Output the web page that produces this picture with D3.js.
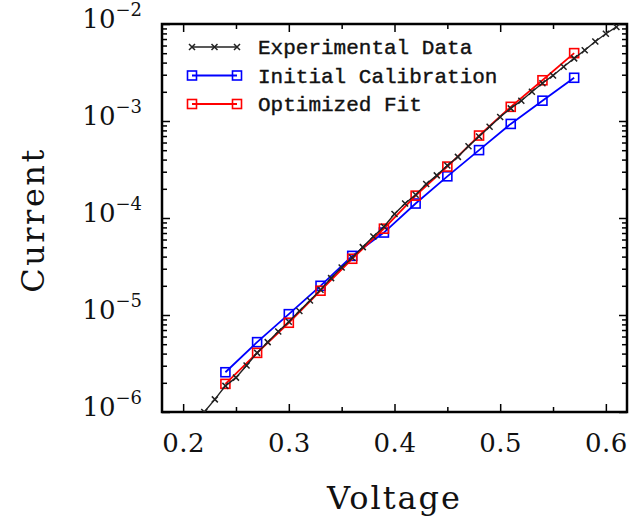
<!DOCTYPE html>
<html>
<head>
<meta charset="utf-8">
<script src="https://cdn.jsdelivr.net/npm/d3@7"></script>
<style>
  body { margin: 0; background: #fff; }
  svg { display: block; }
</style>
</head>
<body>
<div id="chart"></div>
<script>
// experimental sweep, one point every 10 mV
const expVoltage = [0.22, 0.23, 0.24, 0.25, 0.26, 0.27, 0.28, 0.29, 0.30, 0.31,
    0.32, 0.33, 0.34, 0.35, 0.36, 0.37, 0.38, 0.39, 0.40, 0.41,
    0.42, 0.43, 0.44, 0.45, 0.46, 0.47, 0.48, 0.49, 0.50, 0.51,
    0.52, 0.53, 0.54, 0.55, 0.56, 0.57, 0.58, 0.59, 0.60, 0.61];
const expCurrent = [1.00e-6, 1.35e-6, 1.86e-6, 2.26e-6, 3.02e-6, 4.07e-6, 5.25e-6, 6.76e-6, 8.51e-6, 1.10e-5,
    1.41e-5, 1.82e-5, 2.40e-5, 3.09e-5, 3.89e-5, 5.01e-5, 6.46e-5, 8.13e-5, 1.10e-4, 1.41e-4,
    1.74e-4, 2.24e-4, 2.75e-4, 3.47e-4, 4.27e-4, 5.50e-4, 6.92e-4, 8.71e-4, 1.10e-3, 1.35e-3,
    1.62e-3, 2.00e-3, 2.45e-3, 2.95e-3, 3.63e-3, 4.42e-3, 5.37e-3, 6.61e-3, 7.94e-3, 9.33e-3];

// model points every 30 mV
const modelVoltage = [0.24, 0.27, 0.30, 0.33, 0.36, 0.39, 0.42, 0.45, 0.48, 0.51, 0.54, 0.57];
const initialCurrent = [2.57e-6, 5.25e-6, 1.02e-5, 2.00e-5, 4.07e-5, 7.08e-5,
    1.41e-4, 2.69e-4, 5.01e-4, 9.33e-4, 1.62e-3, 2.79e-3];
const optimizedCurrent = [1.95e-6, 4.07e-6, 8.32e-6, 1.78e-5, 3.80e-5, 7.76e-5,
    1.70e-4, 3.39e-4, 7.08e-4, 1.40e-3, 2.63e-3, 5.01e-3];

const xTicks = [0.2, 0.3, 0.4, 0.5, 0.6];
const xMinorTicks = [0.25, 0.35, 0.45, 0.55];
const yDecades = [1e-6, 1e-5, 1e-4, 1e-3, 1e-2];
const yExponents = ["\u22126", "\u22125", "\u22124", "\u22123", "\u22122"];
const legendLabels = ["Experimental Data", "Initial Calibration", "Optimized Fit"];
const seriesColors = ["#000000", "#0000ff", "#ff0000"];

// set the dimensions and margins of the graph
var margin = { top: 24, right: 7, bottom: 105, left: 162 },
    width = 634 - margin.left - margin.right,
    height = 517 - margin.top - margin.bottom;

var svg = d3.select("#chart")
    .append("svg")
    .attr("width", 634)
    .attr("height", 517)
    .append("g")
    .attr("transform", "translate(" + margin.left + "," + margin.top + ")");

var x = d3.scaleLinear()
    .domain([0.18, 0.62])
    .range([0, width]);

var y = d3.scaleLog()
    .domain([1e-6, 1e-2])
    .range([height, 0]);

const tickFont = "'DejaVu Serif', serif";
const majorLen = 8, minorLen = 5;

// minor log ticks: 2..9 within each decade
const yMinorTicks = y.ticks().filter(function (t) {
    return yDecades.indexOf(t) < 0;
});

function styleAxis(g) {
    g.select(".domain").remove();
    g.selectAll(".tick line").attr("stroke", "#000").attr("stroke-width", 1.5);
}

// bottom axis with labels
svg.append("g")
    .attr("transform", "translate(0," + height + ")")
    .call(d3.axisBottom(x).tickValues(xTicks).tickSize(-majorLen).tickPadding(22)
        .tickFormat(d3.format(".1f")))
    .call(styleAxis)
    .call(function (g) {
        g.selectAll("text").attr("font-family", tickFont).attr("font-size", 26)
            .attr("letter-spacing", 0.5).attr("fill", "#111");
    });
svg.append("g")
    .attr("transform", "translate(0," + height + ")")
    .call(d3.axisBottom(x).tickValues(xMinorTicks).tickSize(-minorLen).tickFormat(""))
    .call(styleAxis);

// top axis, ticks only
svg.append("g")
    .call(d3.axisTop(x).tickValues(xTicks).tickSize(-majorLen).tickFormat(""))
    .call(styleAxis);
svg.append("g")
    .call(d3.axisTop(x).tickValues(xMinorTicks).tickSize(-minorLen).tickFormat(""))
    .call(styleAxis);

// left axis: 10^n labels
var yAxisLeft = svg.append("g")
    .call(d3.axisLeft(y).tickValues(yDecades).tickSize(-majorLen).tickFormat(""))
    .call(styleAxis);
yAxisLeft.selectAll(".tick").each(function (d, i) {
    var t = d3.select(this).append("text")
        .attr("x", -20)
        .attr("dy", "0.36em")
        .attr("text-anchor", "end")
        .attr("font-family", tickFont)
        .attr("fill", "#111");
    t.append("tspan").attr("font-size", 26).text("10");
    t.append("tspan").attr("font-size", 18).attr("dy", "-0.7em").text(yExponents[i]);
});
svg.append("g")
    .call(d3.axisLeft(y).tickValues(yMinorTicks).tickSize(-minorLen).tickFormat(""))
    .call(styleAxis);

// right axis, ticks only
svg.append("g")
    .attr("transform", "translate(" + width + ",0)")
    .call(d3.axisRight(y).tickValues(yDecades).tickSize(-majorLen).tickFormat(""))
    .call(styleAxis);
svg.append("g")
    .attr("transform", "translate(" + width + ",0)")
    .call(d3.axisRight(y).tickValues(yMinorTicks).tickSize(-minorLen).tickFormat(""))
    .call(styleAxis);

// frame
svg.append("rect")
    .attr("width", width)
    .attr("height", height)
    .attr("fill", "none")
    .attr("stroke", "#000")
    .attr("stroke-width", 2.5);

// axis titles
svg.append("text")
    .attr("x", x(0.4))
    .attr("y", height + 97)
    .attr("text-anchor", "middle")
    .attr("font-family", tickFont)
    .attr("font-size", 32)
    .attr("letter-spacing", 2)
    .attr("fill", "#111")
    .text("Voltage");

svg.append("text")
    .attr("transform", "translate(" + (-118) + "," + (y(1e-4) + 2) + ") rotate(-90)")
    .attr("text-anchor", "middle")
    .attr("font-family", tickFont)
    .attr("font-size", 32)
    .attr("letter-spacing", 2.5)
    .attr("fill", "#111")
    .text("Current");

// data series
svg.append("clipPath").attr("id", "plot-clip")
    .append("rect").attr("width", width).attr("height", height);

var plot = svg.append("g").attr("clip-path", "url(#plot-clip)");

var line = d3.line()
    .x(function (d) { return x(d[0]); })
    .y(function (d) { return y(d[1]); });

const expData = d3.zip(expVoltage, expCurrent);
const initialData = d3.zip(modelVoltage, initialCurrent);
const optimizedData = d3.zip(modelVoltage, optimizedCurrent);

function crossPath(cx, cy, r) {
    return "M" + (cx - r) + "," + (cy - r) + "L" + (cx + r) + "," + (cy + r) +
        "M" + (cx - r) + "," + (cy + r) + "L" + (cx + r) + "," + (cy - r);
}

function drawSquares(g, data, color) {
    g.selectAll(null)
        .data(data)
        .enter().append("rect")
        .attr("x", function (d) { return x(d[0]) - 4.5; })
        .attr("y", function (d) { return y(d[1]) - 4.5; })
        .attr("width", 9)
        .attr("height", 9)
        .attr("fill", "none")
        .attr("stroke", color)
        .attr("stroke-width", 1.6);
}

// blue first, then red, experimental on top
plot.append("path")
    .datum(initialData)
    .attr("d", line)
    .attr("fill", "none")
    .attr("stroke", seriesColors[1])
    .attr("stroke-width", 1.8);
drawSquares(plot.append("g"), initialData, seriesColors[1]);

plot.append("path")
    .datum(optimizedData)
    .attr("d", line)
    .attr("fill", "none")
    .attr("stroke", seriesColors[2])
    .attr("stroke-width", 1.8);
drawSquares(plot.append("g"), optimizedData, seriesColors[2]);

plot.append("path")
    .datum(expData)
    .attr("d", line)
    .attr("fill", "none")
    .attr("stroke", "#222")
    .attr("stroke-width", 1.4);
plot.append("g")
    .selectAll("path")
    .data(expData)
    .enter().append("path")
    .attr("d", function (d) { return crossPath(x(d[0]), y(d[1]), 3); })
    .attr("stroke", "#222")
    .attr("stroke-width", 1.5);

// legend
var legend = svg.append("g").attr("transform", "translate(30,23)");
legendLabels.forEach(function (label, i) {
    var row = legend.append("g").attr("transform", "translate(0," + (i * 28.5) + ")");
    row.append("line")
        .attr("x1", 0).attr("x2", 45)
        .attr("stroke", i === 0 ? "#222" : seriesColors[i])
        .attr("stroke-width", i === 0 ? 1.4 : 1.8);
    if (i === 0) {
        [0, 22.5, 45].forEach(function (cx) {
            row.append("path").attr("d", crossPath(cx, 0, 3))
                .attr("stroke", "#222").attr("stroke-width", 1.5);
        });
    } else {
        [0, 45].forEach(function (cx) {
            row.append("rect")
                .attr("x", cx - 4.5).attr("y", -4.5)
                .attr("width", 9).attr("height", 9)
                .attr("fill", "none")
                .attr("stroke", seriesColors[i])
                .attr("stroke-width", 1.6);
        });
    }
    row.append("text")
        .attr("x", 66)
        .attr("dy", "0.35em")
        .attr("font-family", "'Liberation Mono', monospace")
        .attr("font-size", 21)
        .attr("fill", "#111")
        .attr("stroke", "#111")
        .attr("stroke-width", 0.4)
        .text(label);
});
</script>
</body>
</html>
